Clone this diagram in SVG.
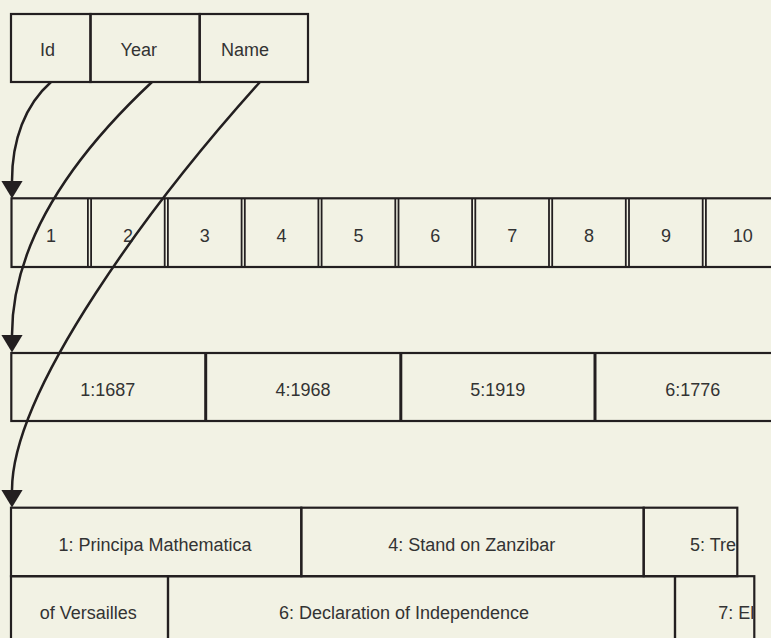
<svg xmlns="http://www.w3.org/2000/svg" width="771" height="638" viewBox="0 0 771 638">
<defs>
<style>
.bg{fill:#f2f2e4}
.cell{fill:none;stroke:#231f20;stroke-width:2.2}
.div3{stroke:#231f20;stroke-width:3}
.dbl{stroke:#231f20;stroke-width:1.8}
.t{font-family:"Liberation Sans",Arial,sans-serif;font-size:18px;fill:#333333}
.m{text-anchor:middle}
.conn{fill:none;stroke:#231f20;stroke-width:2.5}
</style>
<marker id="arrow" markerUnits="userSpaceOnUse" markerWidth="18" markerHeight="22" refX="0" refY="10" orient="auto" viewBox="0 0 17 20">
<path d="M0,0 L16.5,10 L0,20 z" fill="#231f20"/>
</marker>
<clipPath id="clip5"><rect x="640" y="508" width="96" height="67"/></clipPath>
<clipPath id="clip7"><rect x="676" y="577" width="77" height="70"/></clipPath>
</defs>
<rect class="bg" x="0" y="0" width="771" height="638"/>

<g id="header">
<g id="h-id"><rect class="cell" x="11" y="14" width="79.5" height="68"/><text class="t m" x="47.5" y="56">Id</text></g>
<g id="h-year"><rect class="cell" x="90.5" y="14" width="109.2" height="68"/><text class="t m" x="138.8" y="56">Year</text></g>
<g id="h-name"><rect class="cell" x="199.7" y="14" width="108.3" height="68"/><text class="t m" x="245" y="56">Name</text></g>
</g>

<g id="ids">
<rect class="cell" x="11.5" y="198.3" width="800" height="68.7"/>
<g id="id-1"><line class="dbl" x1="87.9" y1="198.3" x2="87.9" y2="267"/><text class="t m" x="51.1" y="241.5">1</text></g>
<g id="id-2"><line class="dbl" x1="91.1" y1="198.3" x2="91.1" y2="267"/><line class="dbl" x1="164.7" y1="198.3" x2="164.7" y2="267"/><text class="t m" x="127.9" y="241.5">2</text></g>
<g id="id-3"><line class="dbl" x1="167.9" y1="198.3" x2="167.9" y2="267"/><line class="dbl" x1="241.6" y1="198.3" x2="241.6" y2="267"/><text class="t m" x="204.8" y="241.5">3</text></g>
<g id="id-4"><line class="dbl" x1="244.8" y1="198.3" x2="244.8" y2="267"/><line class="dbl" x1="318.4" y1="198.3" x2="318.4" y2="267"/><text class="t m" x="281.6" y="241.5">4</text></g>
<g id="id-5"><line class="dbl" x1="321.6" y1="198.3" x2="321.6" y2="267"/><line class="dbl" x1="395.3" y1="198.3" x2="395.3" y2="267"/><text class="t m" x="358.5" y="241.5">5</text></g>
<g id="id-6"><line class="dbl" x1="398.5" y1="198.3" x2="398.5" y2="267"/><line class="dbl" x1="472.1" y1="198.3" x2="472.1" y2="267"/><text class="t m" x="435.3" y="241.5">6</text></g>
<g id="id-7"><line class="dbl" x1="475.3" y1="198.3" x2="475.3" y2="267"/><line class="dbl" x1="549" y1="198.3" x2="549" y2="267"/><text class="t m" x="512.2" y="241.5">7</text></g>
<g id="id-8"><line class="dbl" x1="552.2" y1="198.3" x2="552.2" y2="267"/><line class="dbl" x1="625.8" y1="198.3" x2="625.8" y2="267"/><text class="t m" x="589" y="241.5">8</text></g>
<g id="id-9"><line class="dbl" x1="629" y1="198.3" x2="629" y2="267"/><line class="dbl" x1="702.7" y1="198.3" x2="702.7" y2="267"/><text class="t m" x="665.9" y="241.5">9</text></g>
<g id="id-10"><line class="dbl" x1="705.9" y1="198.3" x2="705.9" y2="267"/><text class="t m" x="742.7" y="241.5">10</text></g>
</g>

<g id="years">
<rect class="cell" x="11.3" y="353" width="800" height="68"/>
<g id="year-1"><text class="t m" x="107.8" y="396">1:1687</text></g>
<g id="year-4"><line class="div3" x1="205.7" y1="353" x2="205.7" y2="421"/><text class="t m" x="303" y="396">4:1968</text></g>
<g id="year-5"><line class="div3" x1="400.8" y1="353" x2="400.8" y2="421"/><text class="t m" x="497.7" y="396">5:1919</text></g>
<g id="year-6"><line class="div3" x1="595" y1="353" x2="595" y2="421"/><text class="t m" x="692.7" y="396">6:1776</text></g>
</g>

<g id="names">
<g id="name-1"><rect class="cell" x="11" y="507.7" width="290.3" height="68.5"/><text class="t m" x="155" y="550.7">1: Principa Mathematica</text></g>
<g id="name-4"><rect class="cell" x="301.3" y="507.7" width="342.4" height="68.5"/><text class="t m" x="471.7" y="550.7">4: Stand on Zanzibar</text></g>
<g id="name-5a"><rect class="cell" x="643.7" y="507.7" width="93.6" height="68.5"/><text class="t" x="690" y="550.7" clip-path="url(#clip5)">5: Tre</text></g>
<g id="name-5b"><rect class="cell" x="11" y="576.2" width="157" height="90"/><text class="t m" x="88.3" y="619.3">of Versailles</text></g>
<g id="name-6"><rect class="cell" x="168" y="576.2" width="507" height="90"/><text class="t m" x="404" y="619.3">6: Declaration of Independence</text></g>
<g id="name-7"><rect class="cell" x="675" y="576.2" width="79.3" height="90"/><text class="t" x="718.3" y="619.3" clip-path="url(#clip7)">7: El</text></g>
</g>

<g id="connectors">
<path class="conn" d="M51,82 C25,105 12,140 12,181" marker-end="url(#arrow)"/>
<path class="conn" d="M152,82 C90,140 12,230 12,335" marker-end="url(#arrow)"/>
<path class="conn" d="M260,82 C152,202 12,390 12,490" marker-end="url(#arrow)"/>
</g>
</svg>
